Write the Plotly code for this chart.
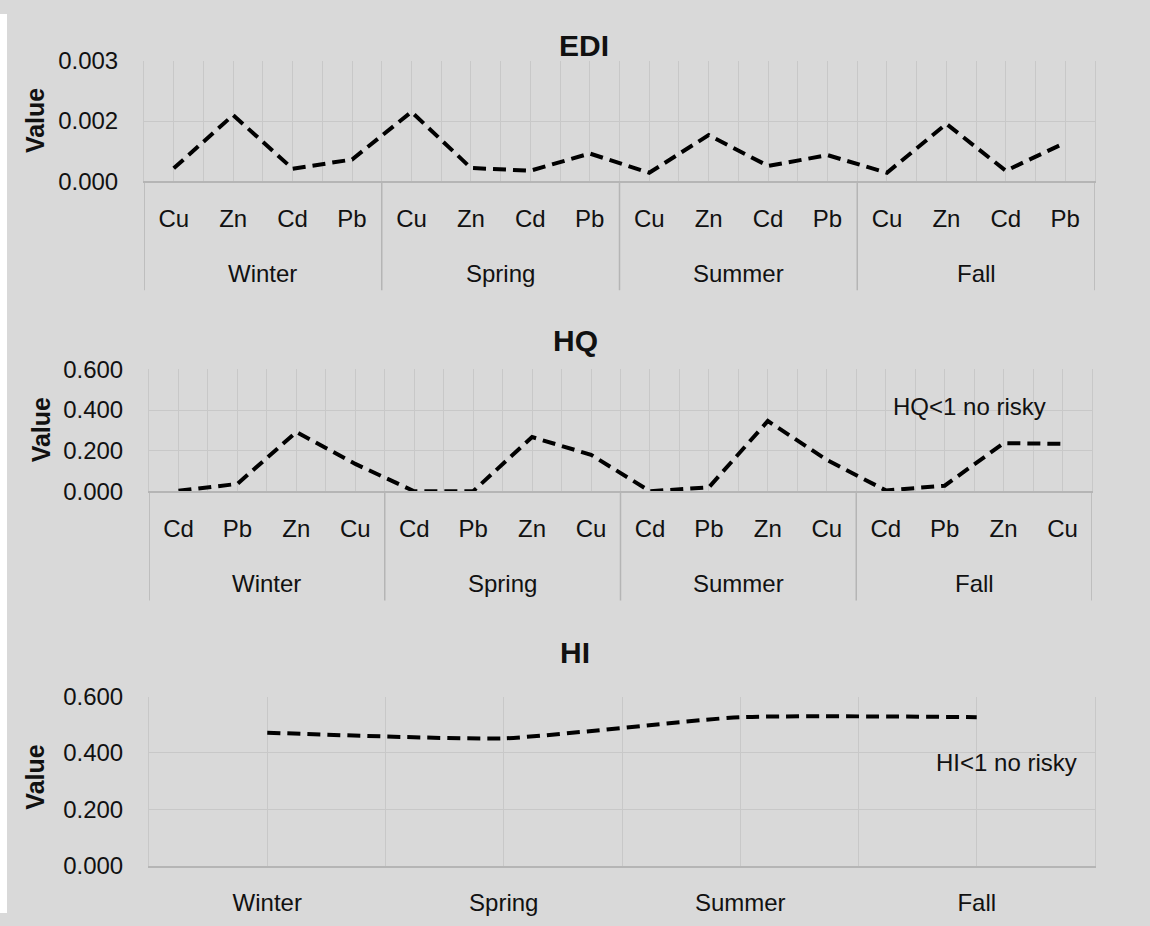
import plotly.graph_objects as go

# ---------------- data ----------------
seasons = ["Winter", "Spring", "Summer", "Fall"]
edi_metals = ["Cu", "Zn", "Cd", "Pb"]
hq_metals = ["Cd", "Pb", "Zn", "Cu"]

edi_values = [0.00032, 0.00165, 0.00031, 0.00054,
              0.00173, 0.00033, 0.00026, 0.00069,
              0.00021, 0.00115, 0.00038, 0.00065,
              0.00021, 0.00143, 0.00026, 0.00096]
hq_values = [0.003, 0.037, 0.292, 0.135,
             0.001, 0.001, 0.267, 0.180,
             0.001, 0.020, 0.346, 0.155,
             0.005, 0.028, 0.237, 0.234]
hi_values = [0.472, 0.452, 0.527, 0.527]

edi_tickvals = [0, 0.0015, 0.003]
edi_ticktext = ["0.000", "0.002", "0.003"]
hq_tickvals = [0, 0.2, 0.4, 0.6]
hq_ticktext = ["0.000", "0.200", "0.400", "0.600"]
hi_tickvals = [0, 0.2, 0.4, 0.6]
hi_ticktext = ["0.000", "0.200", "0.400", "0.600"]

titles = ["EDI", "HQ", "HI"]
y_title = "Value"
hq_note = "HQ<1 no risky"
hi_note = "HI<1 no risky"

# ---------------- style ----------------
W, H = 1150, 926
BG = "#d9d9d9"
GRID = "#c8c8c8"
AXIS = "#b5b5b5"
TXT = "#111111"
FAM = "Liberation Sans Narrow, Arial Narrow, Liberation Sans, Arial, sans-serif"
FS = 24
TICKFONT = dict(family=FAM, size=FS, color=TXT)
LINE = dict(color="black", width=4, dash="13px,7px")

# vertical calibration of the capture (image row = V0 + VS * figure row)
V0, VS = 14.0, 0.97


def px(x):
    return x / W


def py(y):
    return 1 - ((y - V0) / VS) / H


# panel geometry in target image pixels: (left, right, top, bottom)
panels = [(144, 1095, 61, 181), (149, 1092, 369, 491), (149, 1095, 696, 865)]

fig = go.Figure()

edi_labels = [m for s in seasons for m in edi_metals]
hq_labels = [m for s in seasons for m in hq_metals]
edi_idx = list(range(len(edi_labels)))
hq_idx = list(range(len(hq_labels)))
hi_idx = list(range(len(seasons)))

fig.add_trace(go.Scatter(x=edi_idx, y=edi_values, mode="lines", line=LINE,
                         xaxis="x", yaxis="y", showlegend=False, hoverinfo="skip"))
fig.add_trace(go.Scatter(x=hq_idx, y=hq_values, mode="lines", line=LINE,
                         xaxis="x2", yaxis="y2", showlegend=False, hoverinfo="skip"))
fig.add_trace(go.Scatter(x=hi_idx, y=hi_values, mode="lines",
                         line=dict(color="black", width=4, dash="13px,7px",
                                   shape="spline", smoothing=0.5),
                         xaxis="x3", yaxis="y3", showlegend=False, hoverinfo="skip"))


def xaxis_cfg(p, n, ticktext, anchor):
    l, r, t, b = p
    return dict(domain=[px(l), px(r)], anchor=anchor, range=[-0.5, n - 0.5],
                tickmode="array", tickvals=list(range(n)), ticktext=ticktext,
                showgrid=True, gridcolor=GRID, gridwidth=1,
                minor=dict(tickmode="array", tickvals=[i - 0.5 for i in range(n + 1)],
                           showgrid=True, gridcolor=GRID, gridwidth=1),
                ticks="outside", ticklen=15, tickcolor="rgba(0,0,0,0)",
                showline=True, linecolor=AXIS, linewidth=1.5, zeroline=False,
                tickfont=TICKFONT, fixedrange=True)


def yaxis_cfg(p, rng, tv, tt, anchor):
    l, r, t, b = p
    return dict(domain=[py(b), py(t)], anchor=anchor, range=rng,
                tickmode="array", tickvals=tv, ticktext=tt,
                showgrid=True, gridcolor=GRID, gridwidth=1, zeroline=False,
                ticks="outside", ticklen=20, tickcolor="rgba(0,0,0,0)",
                showline=True, mirror=True, linecolor=GRID, linewidth=1,
                tickfont=TICKFONT, fixedrange=True)


fig.update_layout(
    width=W, height=H, autosize=False,
    margin=dict(l=0, r=0, t=0, b=0, pad=0),
    paper_bgcolor=BG, plot_bgcolor=BG,
    xaxis=xaxis_cfg(panels[0], len(edi_labels), edi_labels, "y"),
    yaxis=yaxis_cfg(panels[0], [0, edi_tickvals[-1]], edi_tickvals, edi_ticktext, "x"),
    xaxis2=xaxis_cfg(panels[1], len(hq_labels), hq_labels, "y2"),
    yaxis2=yaxis_cfg(panels[1], [0, hq_tickvals[-1]], hq_tickvals, hq_ticktext, "x2"),
    xaxis3=xaxis_cfg(panels[2], len(seasons), seasons, "y3"),
    yaxis3=yaxis_cfg(panels[2], [0, hi_tickvals[-1]], hi_tickvals, hi_ticktext, "x3"),
    showlegend=False,
)

# thin white page edge on the left, as in the scanned original
shapes = [
    dict(type="rect", xref="paper", yref="paper", x0=0, x1=px(7), y0=0, y1=1,
         fillcolor="white", line=dict(width=0), layer="below"),
]
annotations = []

# season group dividers and labels for the two multi-level panels
for (p, xref, metals, lab_y, div_bottom) in [
        (panels[0], "x", edi_metals, 273, 290),
        (panels[1], "x2", hq_metals, 583, 600)]:
    g = len(metals)
    for k in range(len(seasons) + 1):
        xb = k * g - 0.5
        shapes.append(dict(type="line", xref=xref, yref="paper", x0=xb, x1=xb,
                           y0=py(p[3]), y1=py(div_bottom),
                           line=dict(color=AXIS, width=1.5)))
    for k, s in enumerate(seasons):
        annotations.append(dict(xref=xref, yref="paper", x=k * g + (g - 1) / 2,
                                y=py(lab_y), text=s, showarrow=False,
                                xanchor="center", yanchor="middle",
                                font=dict(family=FAM, size=FS, color=TXT)))

# panel titles
for (txt, cx, cy) in [(titles[0], 584, 45), (titles[1], 575, 340), (titles[2], 575, 652)]:
    annotations.append(dict(xref="paper", yref="paper", x=px(cx), y=py(cy), text=f"<b>{txt}</b>",
                            showarrow=False, xanchor="center", yanchor="middle",
                            font=dict(family=FAM, size=30, color=TXT)))

# y axis titles
for (cx, cy) in [(35, 121), (41, 430), (35, 777)]:
    annotations.append(dict(xref="paper", yref="paper", x=px(cx), y=py(cy),
                            text=f"<b>{y_title}</b>", textangle=-90, showarrow=False,
                            xanchor="center", yanchor="middle",
                            font=dict(family=FAM, size=25, color=TXT)))

# notes
annotations.append(dict(xref="paper", yref="paper", x=px(969), y=py(406), text=hq_note,
                        showarrow=False, xanchor="center", yanchor="middle",
                        font=dict(family=FAM, size=FS, color=TXT)))
annotations.append(dict(xref="paper", yref="paper", x=px(1006), y=py(762), text=hi_note,
                        showarrow=False, xanchor="center", yanchor="middle",
                        font=dict(family=FAM, size=FS, color=TXT)))

fig.update_layout(shapes=shapes, annotations=annotations)
fig.write_html("out.html", config={"displayModeBar": False},
               post_script="document.body.style.margin='0';"
                           "document.documentElement.style.overflow='hidden';")
